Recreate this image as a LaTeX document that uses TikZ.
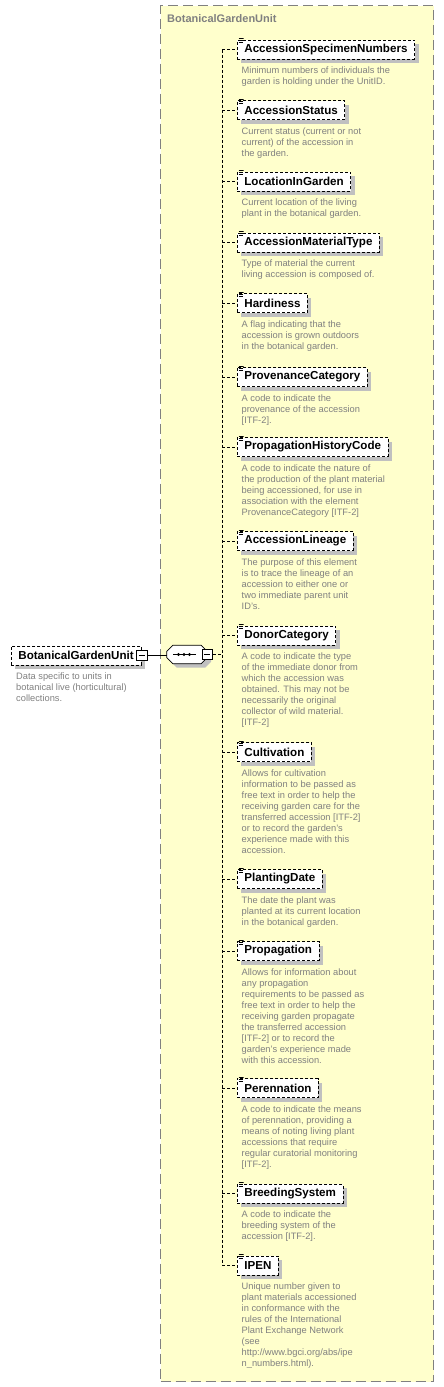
\documentclass[tikz,border=0pt]{standalone}
\usepackage{fontspec}
\setmainfont{Liberation Sans}
\usetikzlibrary{positioning,shadows}
\definecolor{grpfill}{RGB}{255,255,204}
\definecolor{grpline}{RGB}{128,128,128}
\definecolor{shadowgray}{RGB}{192,192,192}
\definecolor{docgray}{RGB}{128,128,128}
\begin{document}
\begin{tikzpicture}[x=1pt, y=-1pt,
  grp/.style={draw=grpline, fill=grpfill, dash pattern=on 10pt off 5pt, line width=1pt, anchor=north west, inner sep=0pt, minimum width=273pt, minimum height=1376pt},
  grptitle/.style={anchor=west, inner sep=0pt, text=grpline, font=\bfseries\fontsize{11}{13}\selectfont},
  box/.style={draw, dash pattern=on 3pt off 2pt, line width=.8pt, fill=white, anchor=west, inner xsep=7pt, minimum height=19pt, font=\bfseries\fontsize{11.6}{13}\selectfont, general shadow={shadow xshift=4pt, shadow yshift=-4pt, fill=shadowgray}},
  docicon/.style={anchor=north west, inner sep=0pt, minimum width=5pt, minimum height=6pt, xshift=1.5pt, yshift=1.5pt, path picture={
    \draw[line width=.7pt] ([yshift=-.5pt]path picture bounding box.north west) -- ++(5pt,0pt);
    \draw[line width=.7pt] ([yshift=-2.3pt]path picture bounding box.north west) -- ++(4pt,0pt);
    \draw[line width=.7pt] ([yshift=-4.1pt]path picture bounding box.north west) -- ++(4pt,0pt);}},
  elem/.style={box, label={[docicon]north west:}},
  desc/.style={anchor=north west, inner sep=0pt, align=left, text=docgray, font=\fontsize{9.3}{11}\selectfont},
  minus/.style={draw, solid, line width=.8pt, fill=white, minimum size=10.5pt, inner sep=0pt, path picture={\draw[line width=.8pt] ([xshift=2pt]path picture bounding box.west) -- ([xshift=-2pt]path picture bounding box.east);}},
  seqbox/.style={inner sep=0pt, minimum width=40pt, minimum height=18pt},
  seqline/.style={draw, line width=.8pt, fill=white, general shadow={shadow xshift=4pt, shadow yshift=-4pt, fill=shadowgray}},
  branch/.style={dash pattern=on 3pt off 2pt, line width=.8pt}]
\useasboundingbox (0,0) rectangle (444,1387);
\node[grp] (grp) at (160,5) {};
\node[grptitle] (grpt) at (167,19) {BotanicalGardenUnit};
\node[box, text width=116pt, align=left] (bgu) at (11,655.5) {BotanicalGardenUnit};
\node[minus] (bgum) at (bgu.east) {};
\node[desc, below right=7.5pt and 5pt of bgu.south west] (bgud) {Data specific to units in\\botanical live (horticultural)\\collections.};
\node[seqbox] (seq) at (187,654.5) {};
\path[seqline] ([xshift=6pt]seq.north west) -- ([xshift=-6pt]seq.north east) -- ([yshift=-6pt]seq.north east) -- ([yshift=6pt]seq.south east) -- ([xshift=-6pt]seq.south east) -- ([xshift=6pt]seq.south west) -- ([yshift=6pt]seq.south west) -- ([yshift=-6pt]seq.north west) -- cycle;
\node[minus] (seqm) at (seq.east) {};
\draw[line width=1pt] ([xshift=-14pt]seq.center) -- ([xshift=9pt]seq.center);
\fill ([xshift=-8.5pt]seq.center) circle (1.6pt);
\fill ([xshift=-3pt]seq.center) circle (1.6pt);
\fill ([xshift=2.5pt]seq.center) circle (1.6pt);
\draw[line width=.8pt] (bgum.east) -- (bgum.east -| seq.west);
\coordinate (spine) at (222,0);
\node[elem] (e1) at (237,49.5) {AccessionSpecimenNumbers};
\node[desc, below right=7.5pt and 4.5pt of e1.south west] (d1) {Minimum numbers of individuals the\\garden is holding under the UnitID.};
\node[elem] (e2) at (237,110) {AccessionStatus};
\node[desc, below right=7.5pt and 4.5pt of e2.south west] (d2) {Current status (current or not\\current) of the accession in\\the garden.};
\node[elem] (e3) at (237,181.5) {LocationInGarden};
\node[desc, below right=7.5pt and 4.5pt of e3.south west] (d3) {Current location of the living\\plant in the botanical garden.};
\node[elem] (e4) at (237,242.5) {AccessionMaterialType};
\node[desc, below right=7.5pt and 4.5pt of e4.south west] (d4) {Type of material the current\\living accession is composed of.};
\node[elem] (e5) at (237,303) {Hardiness};
\node[desc, below right=7.5pt and 4.5pt of e5.south west] (d5) {A flag indicating that the\\accession is grown outdoors\\in the botanical garden.};
\node[elem] (e6) at (237,377) {ProvenanceCategory};
\node[desc, below right=7.5pt and 4.5pt of e6.south west] (d6) {A code to indicate the\\provenance of the accession\\{}[ITF-2].};
\node[elem] (e7) at (237,447) {PropagationHistoryCode};
\node[desc, below right=7.5pt and 4.5pt of e7.south west] (d7) {A code to indicate the nature of\\the production of the plant material\\being accessioned, for use in\\association with the element\\ProvenanceCategory [ITF-2]};
\node[elem] (e8) at (237,541) {AccessionLineage};
\node[desc, below right=7.5pt and 4.5pt of e8.south west] (d8) {The purpose of this element\\is to trace the lineage of an\\accession to either one or\\two immediate parent unit\\ID's.};
\node[elem] (e9) at (237,635.5) {DonorCategory};
\node[desc, below right=7.5pt and 4.5pt of e9.south west] (d9) {A code to indicate the type\\of the immediate donor from\\which the accession was\\obtained. This may not be\\necessarily the original\\collector of wild material.\\{}[ITF-2]};
\node[elem] (e10) at (237,752) {Cultivation};
\node[desc, below right=7.5pt and 4.5pt of e10.south west] (d10) {Allows for cultivation\\information to be passed as\\free text in order to help the\\receiving garden care for the\\transferred accession [ITF-2]\\or to record the garden's\\experience made with this\\accession.};
\node[elem] (e11) at (237,879) {PlantingDate};
\node[desc, below right=7.5pt and 4.5pt of e11.south west] (d11) {The date the plant was\\planted at its current location\\in the botanical garden.};
\node[elem] (e12) at (237,951) {Propagation};
\node[desc, below right=7.5pt and 4.5pt of e12.south west] (d12) {Allows for information about\\any propagation\\requirements to be passed as\\free text in order to help the\\receiving garden propagate\\the transferred accession\\{}[ITF-2] or to record the\\garden's experience made\\with this accession.};
\node[elem] (e13) at (237,1088) {Perennation};
\node[desc, below right=7.5pt and 4.5pt of e13.south west] (d13) {A code to indicate the means\\of perennation, providing a\\means of noting living plant\\accessions that require\\regular curatorial monitoring\\{}[ITF-2].};
\node[elem] (e14) at (237,1193.5) {BreedingSystem};
\node[desc, below right=7.5pt and 4.5pt of e14.south west] (d14) {A code to indicate the\\breeding system of the\\accession [ITF-2].};
\node[elem] (e15) at (237,1265.5) {IPEN};
\node[desc, below right=7.5pt and 4.5pt of e15.south west] (d15) {Unique number given to\\plant materials accessioned\\in conformance with the\\rules of the International\\Plant Exchange Network\\(see\\http://www.bgci.org/abs/ipe\\n\_numbers.html).};
\draw[branch] (seqm.east) -- (seqm.east -| spine);
\draw[branch] (e1.west -| spine) -- (e15.west -| spine);
\draw[branch] (e1.west -| spine) -- (e1.west);
\draw[branch] (e2.west -| spine) -- (e2.west);
\draw[branch] (e3.west -| spine) -- (e3.west);
\draw[branch] (e4.west -| spine) -- (e4.west);
\draw[branch] (e5.west -| spine) -- (e5.west);
\draw[branch] (e6.west -| spine) -- (e6.west);
\draw[branch] (e7.west -| spine) -- (e7.west);
\draw[branch] (e8.west -| spine) -- (e8.west);
\draw[branch] (e9.west -| spine) -- (e9.west);
\draw[branch] (e10.west -| spine) -- (e10.west);
\draw[branch] (e11.west -| spine) -- (e11.west);
\draw[branch] (e12.west -| spine) -- (e12.west);
\draw[branch] (e13.west -| spine) -- (e13.west);
\draw[branch] (e14.west -| spine) -- (e14.west);
\draw[branch] (e15.west -| spine) -- (e15.west);
\end{tikzpicture}
\end{document}
